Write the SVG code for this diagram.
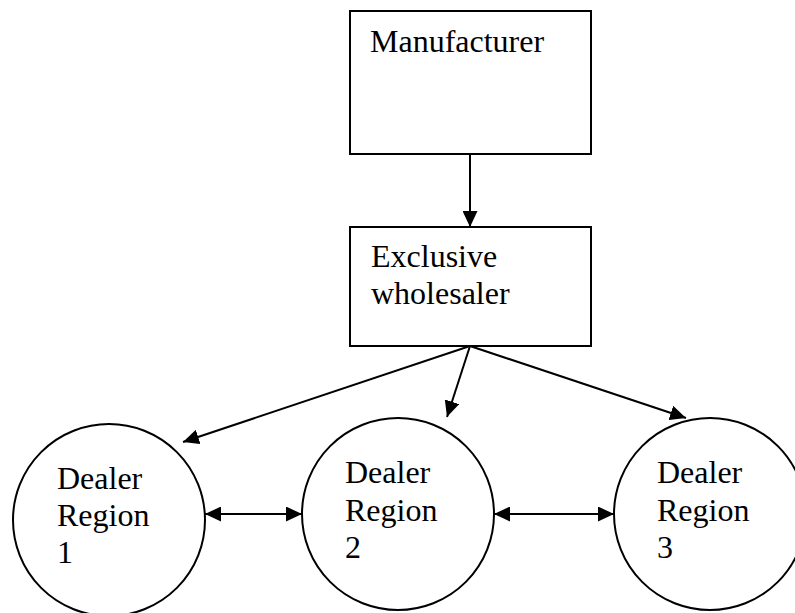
<svg xmlns="http://www.w3.org/2000/svg" width="795" height="613" viewBox="0 0 795 613">
<style>
.box{fill:#fff;stroke:#000;stroke-width:2}
.node{fill:#fff;stroke:#000;stroke-width:2}
.lbl{font-family:'Liberation Serif','Times New Roman','DejaVu Serif',serif;font-size:32px;fill:#000}
.conn{stroke:#000;stroke-width:2;fill:none}
</style>
<defs>
<marker id="ah" markerWidth="16" markerHeight="15" viewBox="0 0 16 15" refX="16" refY="7.5" orient="auto" markerUnits="userSpaceOnUse">
<path d="M0,0 L16,7.5 L0,15 Z" fill="#000"/>
</marker>
<marker id="as" markerWidth="16" markerHeight="15" viewBox="0 0 16 15" refX="0" refY="7.5" orient="auto" markerUnits="userSpaceOnUse">
<path d="M16,0 L0,7.5 L16,15 Z" fill="#000"/>
</marker>
</defs>
<rect width="795" height="613" fill="#fff"/>
<g id="manufacturer">
<rect class="box" x="350" y="11" width="241" height="143"/>
<text class="lbl" font-family="Liberation Serif, serif" x="370" y="52">Manufacturer</text>
</g>
<g id="wholesaler">
<rect class="box" x="350" y="227" width="241" height="119"/>
<text class="lbl" font-family="Liberation Serif, serif" x="371" y="267">Exclusive</text>
<text class="lbl" font-family="Liberation Serif, serif" x="371" y="304">wholesaler</text>
</g>
<g id="dealer1">
<circle class="node" cx="109" cy="520" r="96"/>
<text class="lbl" font-family="Liberation Serif, serif" x="57" y="489">Dealer</text>
<text class="lbl" font-family="Liberation Serif, serif" x="57" y="526">Region</text>
<text class="lbl" font-family="Liberation Serif, serif" x="57" y="563">1</text>
</g>
<g id="dealer2">
<circle class="node" cx="398" cy="514" r="96"/>
<text class="lbl" font-family="Liberation Serif, serif" x="345" y="483">Dealer</text>
<text class="lbl" font-family="Liberation Serif, serif" x="345" y="521">Region</text>
<text class="lbl" font-family="Liberation Serif, serif" x="345" y="558">2</text>
</g>
<g id="dealer3">
<circle class="node" cx="710" cy="514" r="96"/>
<text class="lbl" font-family="Liberation Serif, serif" x="657" y="483">Dealer</text>
<text class="lbl" font-family="Liberation Serif, serif" x="657" y="521">Region</text>
<text class="lbl" font-family="Liberation Serif, serif" x="657" y="558">3</text>
</g>
<g id="connectors">
<line class="conn" x1="470" y1="154" x2="470" y2="227" marker-end="url(#ah)"/>
<line class="conn" x1="470" y1="346" x2="183" y2="442" marker-end="url(#ah)"/>
<line class="conn" x1="470" y1="346" x2="447" y2="417" marker-end="url(#ah)"/>
<line class="conn" x1="470" y1="346" x2="686" y2="418" marker-end="url(#ah)"/>
<line class="conn" x1="205" y1="514" x2="302" y2="514" marker-start="url(#as)" marker-end="url(#ah)"/>
<line class="conn" x1="494" y1="514" x2="614" y2="514" marker-start="url(#as)" marker-end="url(#ah)"/>
</g>
</svg>
